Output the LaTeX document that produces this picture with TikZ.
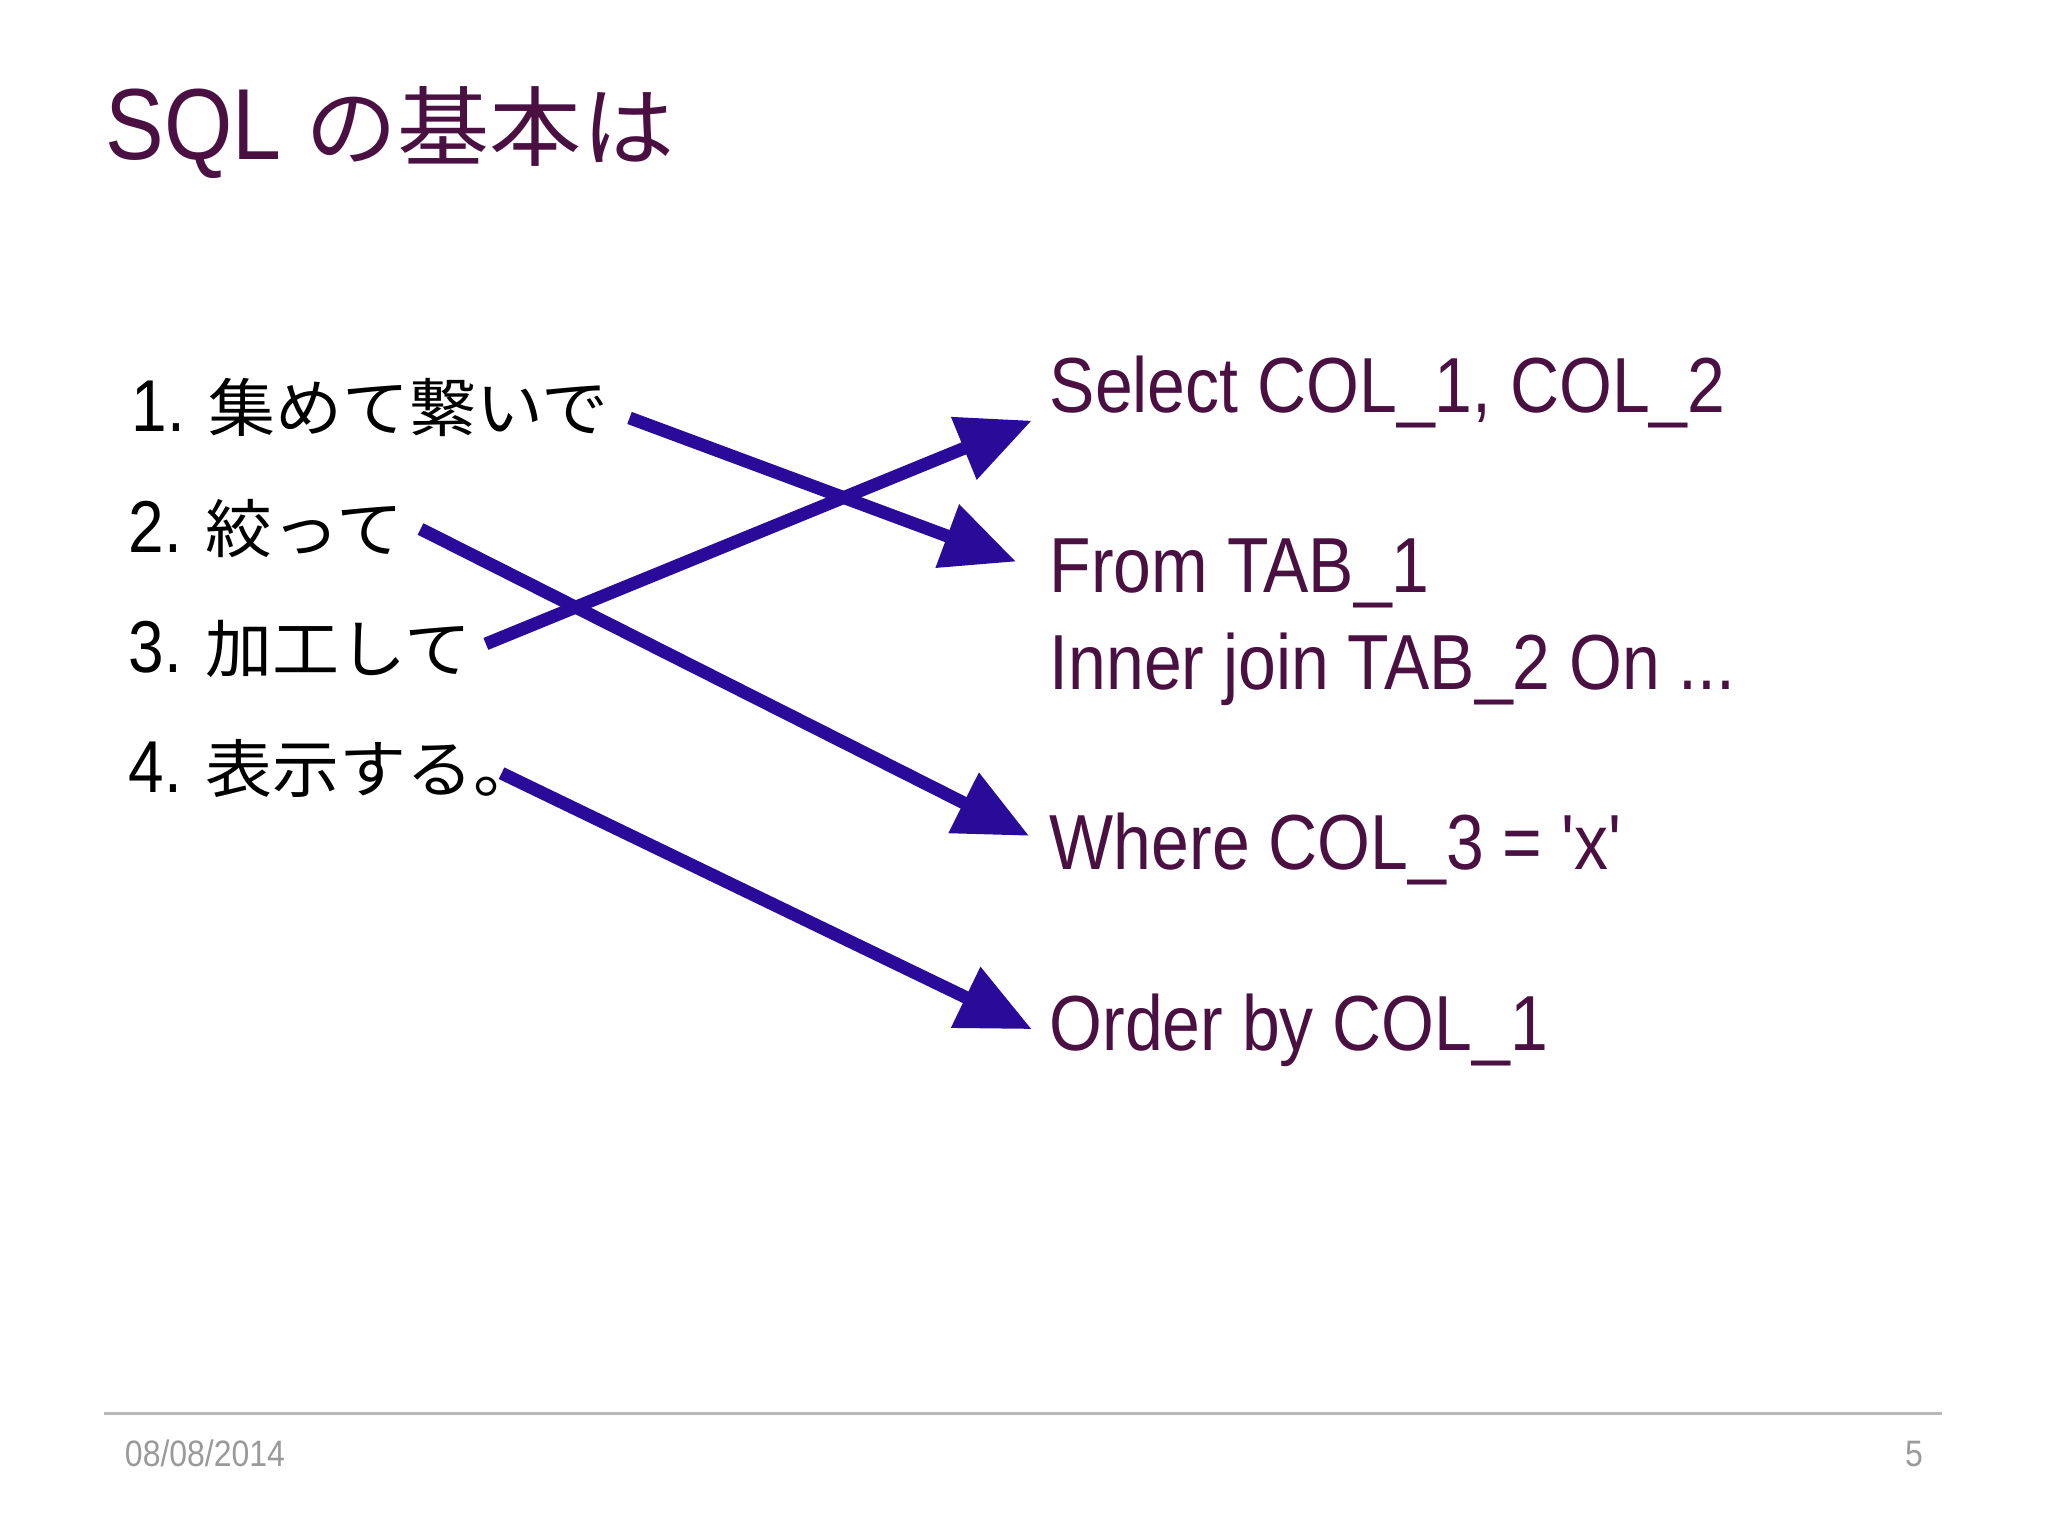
\documentclass[tikz,border=0pt]{standalone}
\usepackage{fontspec}
\newfontfamily\lat{Liberation Sans}[FakeStretch=0.87]
\newfontfamily\cjk{Noto Sans CJK JP}[Scale=0.86,FakeStretch=1.06]
\usetikzlibrary{arrows.meta}
\definecolor{ttl}{HTML}{4A1042}
\definecolor{arr}{HTML}{2A0A99}
\definecolor{foot}{HTML}{9A9A9A}
\tikzset{
 title/.style={anchor=base west,inner sep=0,text=ttl,font=\lat\fontsize{22}{26}\selectfont},
 item/.style={anchor=base west,inner sep=0,text=black,font=\lat\fontsize{16}{19}\selectfont},
 sql/.style={anchor=base west,inner sep=0,text=ttl,font=\lat\fontsize{17}{20}\selectfont},
 footer/.style={inner sep=0,text=foot,font=\lat\fontsize{8}{9}\selectfont},
 link/.style={draw=arr,line width=2.8pt,-{Triangle[length=16pt,width=14pt]}}
}
\begin{document}
\begin{tikzpicture}[x=0.01cm,y=-0.01cm]
\useasboundingbox (0,0) rectangle (1568,1176);
\node[title] (t) at (80,122) {SQL {\cjk の基本は}};
\node[item] (i1) at (100,330) {1. {\cjk 集めて繋いで}};
\node[item] (i2) at (98,423) {2. {\cjk 絞って}};
\node[item] (i3) at (98,515) {3. {\cjk 加工して}};
\node[item] (i4) at (98,607) {4. {\cjk 表示する。}};
\node[sql] (s1) at (803,316) {Select COL\_1, COL\_2};
\node[sql] (s2) at (803,454) {From TAB\_1};
\node[sql] (s3) at (803,528) {Inner join TAB\_2 On ...};
\node[sql] (s4) at (803,666) {Where COL\_3 = 'x'};
\node[sql] (s5) at (803,804) {Order by COL\_1};
\coordinate (a1s) at (482,320); \coordinate (a1e) at (778,430);
\coordinate (a2s) at (322,405); \coordinate (a2e) at (788,640);
\coordinate (a3s) at (372,493); \coordinate (a3e) at (790,322);
\coordinate (a4s) at (384,592); \coordinate (a4e) at (790,788);
\draw[link] (a1s) -- (a1e);
\draw[link] (a2s) -- (a2e);
\draw[link] (a3s) -- (a3e);
\draw[link] (a4s) -- (a4e);
\coordinate (fl) at (80,1082); \coordinate (fr) at (1487,1082);
\draw[foot!70,line width=0.6pt] (fl) -- (fr);
\node[footer,anchor=base west] (d) at (95,1123) {08/08/2014};
\node[footer,anchor=base east] (p) at (1473,1123) {5};
\end{tikzpicture}
\end{document}
